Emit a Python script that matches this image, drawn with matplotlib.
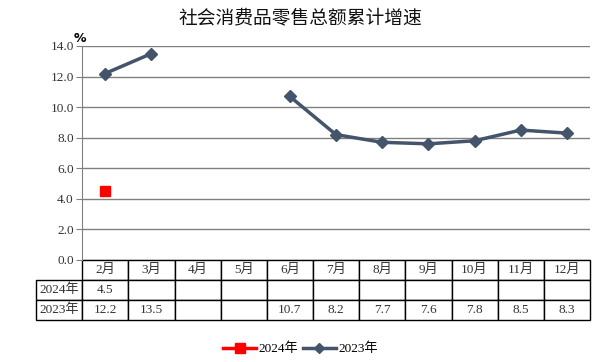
import numpy as np
import matplotlib
matplotlib.use('Agg')
import matplotlib.pyplot as plt
from matplotlib.lines import Line2D

plt.rcParams['font.family'] = ['Liberation Serif', 'Noto Sans CJK SC']

months = ['2月', '3月', '4月', '5月', '6月', '7月', '8月', '9月', '10月', '11月', '12月']
vals_2024 = [4.5, None, None, None, None, None, None, None, None, None, None]
vals_2023 = [12.2, 13.5, None, None, 10.7, 8.2, 7.7, 7.6, 7.8, 8.5, 8.3]
series_names = ['2024年', '2023年']
yticks = [0, 2, 4, 6, 8, 10, 12, 14]

c24 = '#FF0000'
c23 = '#44546A'

W, H = 601, 362
fig = plt.figure(figsize=(W / 100, H / 100), dpi=100)
x0, x1, yt, yb = 82, 590, 46, 260
ax = fig.add_axes([x0 / W, (H - yb) / H, (x1 - x0) / W, (yb - yt) / H])

x = np.arange(len(months)) + 0.5
y24 = np.array([np.nan if v is None else v for v in vals_2024])
y23 = np.array([np.nan if v is None else v for v in vals_2023])

ax.plot(x, y23, color=c23, lw=2.5, marker='D', ms=6, zorder=3)
ax.plot(x, y24, color=c24, lw=2.5, marker='s', ms=7, zorder=3)

ax.set_xlim(0, len(months))
ax.set_ylim(0, 14)
ax.set_yticks(yticks)
ax.set_yticklabels([f'{v:.1f}' for v in yticks], fontsize=9.5, color='#333333')
ax.set_xticks([])
ax.grid(axis='y', color='#808080', lw=1)
ax.set_axisbelow(True)
for s in ['top', 'right', 'bottom']:
    ax.spines[s].set_visible(False)
ax.spines['left'].set_color('#808080')
ax.tick_params(axis='y', length=4, color='#808080', pad=2)

# data table
def fmt(v):
    return '' if v is None else f'{v}'

cells = [[''] + months,
         [series_names[0]] + [fmt(v) for v in vals_2024],
         [series_names[1]] + [fmt(v) for v in vals_2023]]
tx0 = 36
tbl = ax.table(cellText=cells, cellLoc='center',
               bbox=[(tx0 - x0) / (x1 - x0), -60 / (yb - yt), (x1 - tx0) / (x1 - x0), 60 / (yb - yt)])
tbl.auto_set_font_size(False)
for (r, c), cell in tbl.get_celld().items():
    cell.set_fontsize(9.5)
    cell.set_linewidth(1)
    cell.set_edgecolor('black')
    cell.get_text().set_color('#333333')
    if r == 0 and c == 0:
        cell.visible_edges = ''

fig.text(0.5, 1 - 18 / H, '社会消费品零售总额累计增速', ha='center', va='center',
         fontsize=13.5, family=['Noto Sans CJK SC'], color='#111111')
fig.text(74 / W, 1 - 38 / H, '%', ha='left', va='center', fontsize=9,
         fontweight='bold', family=['DejaVu Sans'])

handles = [Line2D([], [], color=c24, lw=2.5, marker='s', ms=7),
           Line2D([], [], color=c23, lw=2.5, marker='D', ms=5)]
fig.legend(handles, series_names, loc='center', bbox_to_anchor=(0.5, 1 - 349 / H),
           ncol=2, frameon=False, fontsize=9.5, handlelength=2.5, columnspacing=0.3,
           handletextpad=0.2)

fig.savefig('out.png', dpi=100)
